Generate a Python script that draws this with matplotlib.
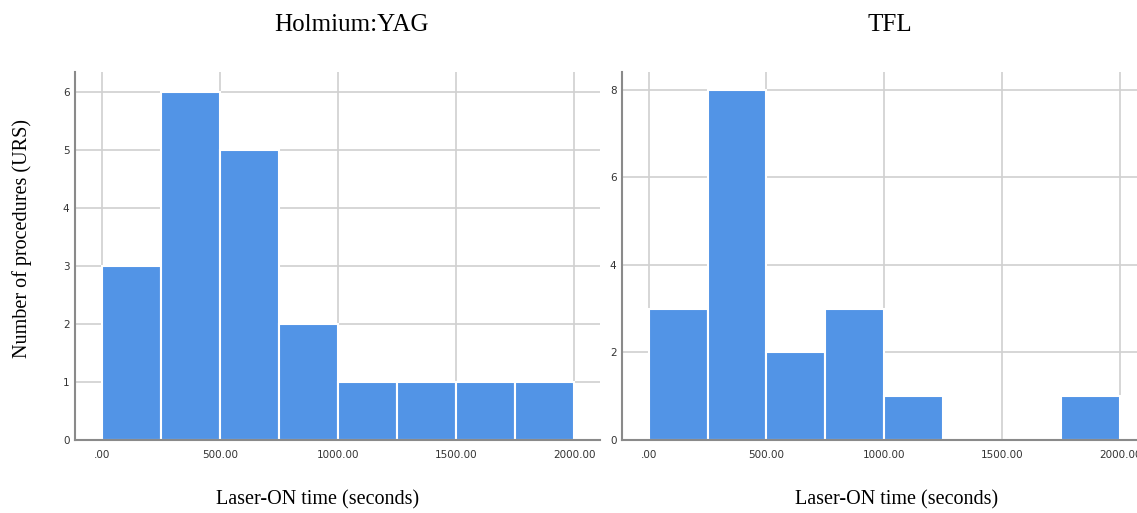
import matplotlib.pyplot as plt

# histogram bins (seconds) and counts per bin
bin_edges = [0, 250, 500, 750, 1000, 1250, 1500, 1750, 2000]
holmium_counts = [3, 6, 5, 2, 1, 1, 1, 1]
tfl_counts = [3, 8, 2, 3, 1, 0, 0, 1]

x_ticks = [0, 500, 1000, 1500, 2000]
x_ticklabels = [".00", "500.00", "1000.00", "1500.00", "2000.00"]
holmium_yticks = [0, 1, 2, 3, 4, 5, 6]
tfl_yticks = [0, 2, 4, 6, 8]

bar_color = "#5294e6"
serif = "Liberation Serif"

fig = plt.figure(figsize=(11.37, 5.13), dpi=100)

ax1 = fig.add_axes([0.066, 0.1423, 0.4617, 0.7173])
ax2 = fig.add_axes([0.547, 0.1423, 0.453, 0.7173])


def style(ax, counts, yticks, xlim, ylim):
    widths = [bin_edges[i + 1] - bin_edges[i] for i in range(len(counts))]
    ax.bar(bin_edges[:-1], counts, width=widths, align="edge",
           color=bar_color, edgecolor="white", linewidth=1.5, zorder=3)
    ax.set_xlim(*xlim)
    ax.set_ylim(*ylim)
    ax.set_xticks(x_ticks)
    ax.set_xticklabels(x_ticklabels)
    ax.set_yticks(yticks)
    ax.tick_params(length=0, labelsize=7.5, labelcolor="#333333")
    ax.tick_params(axis="x", pad=7)
    ax.tick_params(axis="y", pad=4)
    ax.grid(True, color="#d0d0d0", linewidth=1.2, zorder=0)
    ax.set_axisbelow(True)
    for s in ["top", "right"]:
        ax.spines[s].set_visible(False)
    for s in ["left", "bottom"]:
        ax.spines[s].set_color("#8a8a8a")
        ax.spines[s].set_linewidth(1.5)
        ax.spines[s].set_zorder(4)


style(ax1, holmium_counts, holmium_yticks, (-114, 2110), (0, 6.34))
style(ax2, tfl_counts, tfl_yticks, (-113, 2072), (0, 8.41))

fig.text(351 / 1137, 1 - 25 / 513, "Holmium:YAG", family=serif, fontsize=18,
         ha="center", va="center")
fig.text(890 / 1137, 1 - 25 / 513, "TFL", family=serif, fontsize=18,
         ha="center", va="center")
fig.text(318 / 1137, 1 - 500 / 513, "Laser-ON time (seconds)", family=serif,
         fontsize=14.5, ha="center", va="center")
fig.text(897 / 1137, 1 - 500 / 513, "Laser-ON time (seconds)", family=serif,
         fontsize=14.5, ha="center", va="center")
fig.text(22 / 1137, 1 - 239 / 513, "Number of procedures (URS)", family=serif,
         fontsize=14.5, ha="center", va="center", rotation=90)

fig.savefig("out.png", dpi=100)
